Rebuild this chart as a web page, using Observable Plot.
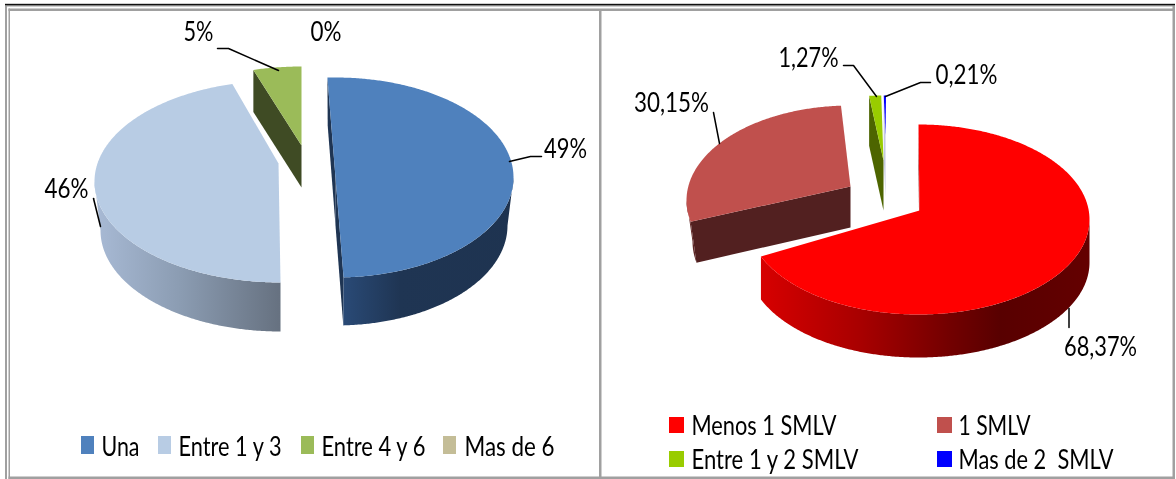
<!DOCTYPE html>
<html>
<head>
<meta charset="utf-8">
<script src="https://cdn.jsdelivr.net/npm/d3@7"></script>
<script src="https://cdn.jsdelivr.net/npm/@observablehq/plot@0.6"></script>
<style>
html,body{margin:0;padding:0;background:#fff}
svg{display:block;white-space:pre;filter:blur(0.4px)}
</style>
</head>
<body>
<div id="chart"></div>
<script>
// ---- data ----
const hijosCategories = ["Una", "Entre 1 y 3", "Entre 4 y 6", "Mas de 6"];
const hijosValues = [49, 46, 5, 0];
const hijosLabels = ["49%", "46%", "5%", "0%"];
const hijosColors = ["#4f81bd", "#b8cce4", "#9bbb59", "#c4bd97"];

const ingresoCategories = ["Menos 1 SMLV", "1 SMLV", "Entre 1 y 2 SMLV", "Mas de 2  SMLV"];
const ingresoValues = [68.37, 30.15, 1.27, 0.21];
const ingresoLabels = ["68,37%", "30,15%", "1,27%", "0,21%"];
const ingresoColors = ["#ff0000", "#c0504d", "#99cc00", "#0000ff"];

// ---- layout of the 3-D drawing (one entry per slice) ----
const rad = d => d * Math.PI / 180;
const hijosLayout = [
  {cx:335, cy:177, rx:178, ry:100, rb:-6, depth:48, ax:335, ay:177, a0:-2.6, a1:1,
   face:"#1f3553", faces:[1,1], side:[[340,"#2a4b78"],[400,"#1f3553"],[520,"#1e3350"]]},
  {cx:280, cy:181, rx:186, ry:101, rb:-6, depth:49, ax:278, ay:163, a0:3.6, a1:3,
   face:null, faces:[0,0], side:[[92,"#a9bbd6"],[180,"#8b9cb2"],[280,"#667180"]]},
  {cx:301, cy:166, rx:186, ry:100, rb:0, depth:42, ax:301, ay:145, a0:3, a1:0,
   face:"#3f4b24", faces:[1,0], side:[[0,"#3f4b24"]]},
  {cx:301, cy:166, rx:186, ry:100, rb:0, depth:42, ax:301, ay:145, a0:0, a1:0,
   face:null, faces:[0,0], side:[[0,"#8f8a6e"]]}
];
const ingresoLayout = [
  {cx:918, cy:219, rx:171, ry:95, rb:0, depth:43, ax:919, ay:210, a0:0, a1:1,
   face:"#8a0000", faces:[1,0], side:[[762,"#d60000"],[860,"#a80000"],[950,"#720000"],[1000,"#580000"],[1090,"#640000"]]},
  {cx:850, cy:200, rx:164, ry:95, rb:-6, depth:41, ax:850, ay:186, a0:11, a1:2,
   face:"#522020", faces:[1,0], side:[[680,"#7a3634"],[700,"#522020"]]},
  {cx:883, cy:190, rx:171, ry:95, rb:0, depth:50, ax:883, ay:160, a0:0.5, a1:0,
   face:"#4d6500", faces:[1,0], side:[[0,"#4d6500"]]},
  {cx:885.5, cy:190, rx:171, ry:95, rb:0, depth:62, ax:885, ay:135, a0:0, a1:0,
   face:"#c4c8e0", faces:[1,0], side:[[0,"#c4c8e0"]]}
];

// ---- geometry derived from the values ----
function slices(values, layout, colors) {
  const pie = d3.pie().sort(null).value(d => d).startAngle(0).endAngle(2 * Math.PI)(values);
  return pie.map((p, i) => {
    const L = layout[i];
    return {
      L, color: colors[i], id: i,
      a0: p.startAngle * 180 / Math.PI + L.a0,
      a1: p.endAngle * 180 / Math.PI + L.a1
    };
  });
}
const pt = (L, a) => [L.cx + L.rx * Math.sin(rad(a)), L.cy - L.ry * Math.cos(rad(a))];
const ptBottom = (L, a) => [L.cx + (L.rx + L.rb) * Math.sin(rad(a)), L.cy - L.ry * Math.cos(rad(a)) + L.depth];
const toRows = (id, color, points) => points.map(([x, y]) => ({id, color, x, y}));

const gradients = [];
function build(prefix, values, layout, colors) {
  const top = [], inner = [], side = [];
  for (const s of slices(values, layout, colors)) {
    const {L, a0, a1} = s;
    if (a1 - a0 <= 0) continue;
    const n = Math.max(2, Math.ceil((a1 - a0) * 2));
    const arc = d3.range(n + 1).map(k => a0 + (a1 - a0) * k / n);
    top.push(...toRows(prefix + "t" + s.id, s.color, [[L.ax, L.ay], ...arc.map(a => pt(L, a))]));
    if (L.faces[0]) {
      inner.push(...toRows(prefix + "s" + s.id, L.face, [pt(L, a0), [L.ax, L.ay], [L.ax, L.ay + L.depth], ptBottom(L, a0)]));
    }
    if (L.faces[1]) {
      inner.push(...toRows(prefix + "e" + s.id, L.face, [pt(L, a1), [L.ax, L.ay], [L.ax, L.ay + L.depth], ptBottom(L, a1)]));
    }
    // outer rim: only the front half of the ellipse shows
    const lo = Math.max(a0, 90), hi = Math.min(a1, 270);
    if (hi > lo) {
      const m = Math.ceil((hi - lo) * 2);
      const as = d3.range(m + 1).map(k => lo + (hi - lo) * k / m);
      const gid = prefix + "grad" + s.id;
      gradients.push({gid, stops: L.side});
      side.push(...toRows(prefix + "r" + s.id, L.side.length > 1 ? `url(#${gid})` : L.side[0][1],
        [...as.map(a => pt(L, a)), ...as.slice().reverse().map(a => ptBottom(L, a))]));
    }
  }
  return {top, inner, side};
}

const left = build("L", hijosValues, hijosLayout, hijosColors);
const right = build("R", ingresoValues, ingresoLayout, ingresoColors);

// horizontal gradients for the rims, in the chart's own x coordinates
function gradientDefs() {
  const defs = d3.create("svg:defs");
  for (const {gid, stops} of gradients) {
    if (stops.length < 2) continue;
    const x0 = stops[0][0], x1 = stops[stops.length - 1][0];
    const g = defs.append("linearGradient").attr("id", gid).attr("gradientUnits", "userSpaceOnUse")
      .attr("x1", x0).attr("x2", x1).attr("y1", 0).attr("y2", 0);
    for (const [x, c] of stops) g.append("stop").attr("offset", (x - x0) / (x1 - x0)).attr("stop-color", c);
  }
  return defs.node();
}

// ---- labels, leaders, legends, frame ----
const fontFamily = "Lato, 'Open Sans', sans-serif";
const valueLabels = [
  {text: hijosLabels[0], x: 565, y: 149, w: 43},
  {text: hijosLabels[1], x: 66, y: 189, w: 44},
  {text: hijosLabels[2], x: 198, y: 32, w: 30},
  {text: hijosLabels[3], x: 325.5, y: 32, w: 31},
  {text: ingresoLabels[0], x: 1100, y: 347, w: 73},
  {text: ingresoLabels[1], x: 671, y: 103, w: 75},
  {text: ingresoLabels[2], x: 808, y: 58, w: 60},
  {text: ingresoLabels[3], x: 966, y: 75, w: 62}
];
const leaders = [
  [[217,48],[228,48],[278,70]],
  [[93,198],[100,226]],
  [[509,161],[530,156],[541,156]],
  [[713,112],[719,143]],
  [[843,65],[853,65],[876,96]],
  [[885,96],[920,82],[930,82]],
  [[1068.5,308],[1068.5,327]]
].flatMap((pts, i) => toRows(i, "#000", pts));

const legendBoxes = [
  {x1:81, x2:94, y1:436, y2:454, fill:hijosColors[0]},
  {x1:158, x2:171, y1:436, y2:454, fill:hijosColors[1]},
  {x1:301, x2:314, y1:436, y2:454, fill:hijosColors[2]},
  {x1:443, x2:456, y1:436, y2:454, fill:hijosColors[3]},
  {x1:669, x2:684, y1:417, y2:433, fill:ingresoColors[0]},
  {x1:937, x2:952, y1:417, y2:433, fill:ingresoColors[1]},
  {x1:669, x2:684, y1:451, y2:467, fill:ingresoColors[2]},
  {x1:937, x2:952, y1:451, y2:467, fill:ingresoColors[3]}
];
const legendTexts = [
  {text:hijosCategories[0], x:101, y:447, w:38},
  {text:hijosCategories[1], x:178, y:447, w:103},
  {text:hijosCategories[2], x:321, y:447, w:104},
  {text:hijosCategories[3], x:464, y:447, w:90},
  {text:ingresoCategories[0], x:691, y:426, w:145},
  {text:ingresoCategories[1], x:958, y:426, w:72},
  {text:ingresoCategories[2], x:691, y:460, w:167},
  {text:ingresoCategories[3], x:958, y:460, w:155}
];
const frameGrey = [
  {x1:5, x2:1175, y1:5, y2:6.5},
  {x1:8.5, x2:1175, y1:8.5, y2:11},
  {x1:5, x2:7, y1:5, y2:479},
  {x1:8.5, x2:10, y1:8.5, y2:479},
  {x1:599, x2:601.5, y1:9, y2:479},
  {x1:1172.5, x2:1175, y1:5, y2:479},
  {x1:8.5, x2:1175, y1:476.5, y2:479}
];
const frameBlack = [{x1:5, x2:1175, y1:3.8, y2:5.2}];

const polygons = rows => Plot.line(rows, {x:"x", y:"y", z:"id", fill:"color", stroke:"none"});

const chart = Plot.plot({
  width: 1176, height: 479,
  margin: 0,
  style: {background: "#fff"},
  x: {domain: [0, 1176], range: [0, 1176], axis: null},
  y: {domain: [0, 479], range: [0, 479], axis: null},
  marks: [
    gradientDefs,
    Plot.rect(frameGrey, {x1:"x1", x2:"x2", y1:"y1", y2:"y2", fill:"#a0a0a0"}),
    Plot.rect(frameBlack, {x1:"x1", x2:"x2", y1:"y1", y2:"y2", fill:"#111"}),
    polygons(left.inner), polygons(left.side), polygons(left.top),
    polygons(right.inner), polygons(right.side), polygons(right.top),
    Plot.line(leaders, {x:"x", y:"y", z:"id", stroke:"#000", strokeWidth:1.5}),
    Plot.rect(legendBoxes, {x1:"x1", x2:"x2", y1:"y1", y2:"y2", fill:"fill"}),
    Plot.text(valueLabels, {x:"x", y:"y", text:"text", fontSize:27, fontFamily, fill:"#000", textAnchor:"middle"}),
    Plot.text(legendTexts, {x:"x", y:"y", text:"text", fontSize:26, fontFamily, fill:"#000", textAnchor:"start"})
  ]
});

// fit each label to the narrow width it has in the picture
const widths = new Map([...valueLabels, ...legendTexts].map(d => [d.text, d.w]));
for (const t of chart.querySelectorAll("text")) {
  const w = widths.get(t.textContent);
  if (w) { t.setAttribute("textLength", w); t.setAttribute("lengthAdjust", "spacingAndGlyphs"); }
}
document.getElementById("chart").append(chart);
</script>
</body>
</html>
